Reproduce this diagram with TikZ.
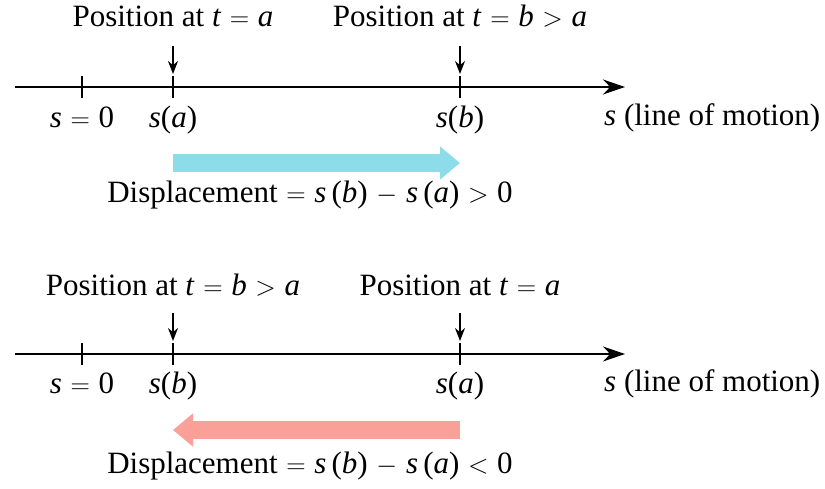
\documentclass[tikz,border=0pt]{standalone}
\usepackage{fontspec}
\setmainfont{Liberation Serif}
\usetikzlibrary{arrows.meta}
\definecolor{cyanarrow}{RGB}{141,220,234}
\definecolor{salmonarrow}{RGB}{250,160,152}
\newcommand{\mi}[1]{\textit{#1}}
\newcommand{\msp}{\hspace{0.28em}}
\newcommand{\op}[1]{\msp\scalebox{1.08}{$#1$}\msp}
\begin{document}
\begin{tikzpicture}[x=1pt,y=-1pt,
  font=\fontsize{31}{36}\selectfont,
  axisline/.style={line width=1.4pt,-{Stealth[length=22pt,width=15pt]}},
  tickmark/.style={line width=1.4pt},
  pointer/.style={line width=1.4pt,-{Stealth[length=13pt,width=10pt]}},
  lbl/.style={anchor=base,inner sep=0pt},
  disp/.style={line width=18pt,-{Triangle[length=20pt,width=32pt]}}]
\useasboundingbox (0,0) rectangle (825,489);

% ---------- top diagram ----------
\coordinate (A1s) at (15,87);
\coordinate (A1e) at (625,87);
\draw[axisline] (A1s) -- (A1e);
\coordinate (T1z) at (82,87);
\coordinate (T1a) at (173,87);
\coordinate (T1b) at (460,87);
\foreach \t in {T1z,T1a,T1b}{
  \draw[tickmark] ([yshift=11pt]\t) -- ([yshift=-11pt]\t);
}
\node[lbl] (P1a) at (173,27) {Position at \mi{t}\op{=}\mi{a}};
\node[lbl] (P1b) at (460,27) {Position at \mi{t}\op{=}\mi{b}\op{>}\mi{a}};
\coordinate (Q1a) at (173,46);
\coordinate (Q1b) at (460,46);
\draw[pointer] (Q1a) -- ([yshift=13pt]T1a);
\draw[pointer] (Q1b) -- ([yshift=13pt]T1b);
\node[lbl] (L1z) at (82,128) {\mi{s}\op{=}0};
\node[lbl] (L1a) at (173,128) {\mi{s}(\mi{a})};
\node[lbl] (L1b) at (460,128) {\mi{s}(\mi{b})};
\node[lbl,anchor=base west] (L1m) at (604,126) {\mi{s} (line of motion)};
\coordinate (D1s) at (173,163);
\coordinate (D1e) at (460,163);
\draw[disp,cyanarrow] (D1s) -- (D1e);
\node[lbl] (X1) at (310,203) {Displacement\op{=}\mi{s}\,(\mi{b})\op{-}\mi{s}\,(\mi{a})\op{>}0};

% ---------- bottom diagram ----------
\coordinate (A2s) at (15,354);
\coordinate (A2e) at (625,354);
\draw[axisline] (A2s) -- (A2e);
\coordinate (T2z) at (82,354);
\coordinate (T2b) at (173,354);
\coordinate (T2a) at (460,354);
\foreach \t in {T2z,T2b,T2a}{
  \draw[tickmark] ([yshift=11pt]\t) -- ([yshift=-11pt]\t);
}
\node[lbl] (P2b) at (173,295) {Position at \mi{t}\op{=}\mi{b}\op{>}\mi{a}};
\node[lbl] (P2a) at (460,295) {Position at \mi{t}\op{=}\mi{a}};
\coordinate (Q2b) at (173,313);
\coordinate (Q2a) at (460,313);
\draw[pointer] (Q2b) -- ([yshift=13pt]T2b);
\draw[pointer] (Q2a) -- ([yshift=13pt]T2a);
\node[lbl] (L2z) at (82,393) {\mi{s}\op{=}0};
\node[lbl] (L2b) at (173,393) {\mi{s}(\mi{b})};
\node[lbl] (L2a) at (460,393) {\mi{s}(\mi{a})};
\node[lbl,anchor=base west] (L2m) at (604,391) {\mi{s} (line of motion)};
\coordinate (D2s) at (460,430);
\coordinate (D2e) at (173,430);
\draw[disp,salmonarrow] (D2s) -- (D2e);
\node[lbl] (X2) at (310,473) {Displacement\op{=}\mi{s}\,(\mi{b})\op{-}\mi{s}\,(\mi{a})\op{<}0};
\end{tikzpicture}
\end{document}
